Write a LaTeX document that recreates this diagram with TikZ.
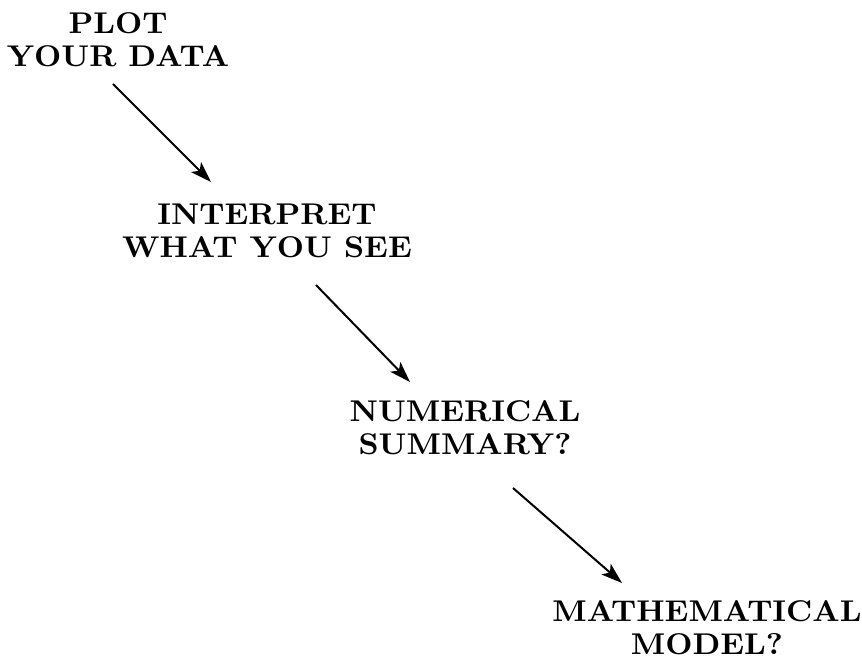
\documentclass[tikz,border=0pt]{standalone}
\usepackage{fontspec}
\newfontface\lmbxten{lmroman10-bold.otf}[FakeStretch=1.05]
\usetikzlibrary{arrows.meta}
\begin{document}
\begin{tikzpicture}[x=1pt,y=-1pt,
  label/.style={align=center,inner sep=0pt,font=\lmbxten\fontsize{30}{33}\selectfont},
  arr/.style={line width=2pt,-{Stealth[length=21pt,width=14pt,inset=5pt]}}]
\useasboundingbox (0,0) rectangle (862,660);
\node[label] (a) at (118,40) {PLOT\\YOUR DATA};
\node[label] (b) at (267,231) {INTERPRET\\WHAT YOU SEE};
\node[label] (c) at (465,428) {NUMERICAL\\SUMMARY?};
\node[label] (d) at (707,628) {MATHEMATICAL\\MODEL?};
\draw[arr] ([shift={(-5,44)}]a.center) -- ([shift={(-56,-49)}]b.center);
\draw[arr] ([shift={(49,54)}]b.center) -- ([shift={(-55,-46)}]c.center);
\draw[arr] ([shift={(48,60)}]c.center) -- ([shift={(-85,-45)}]d.center);
\end{tikzpicture}
\end{document}
